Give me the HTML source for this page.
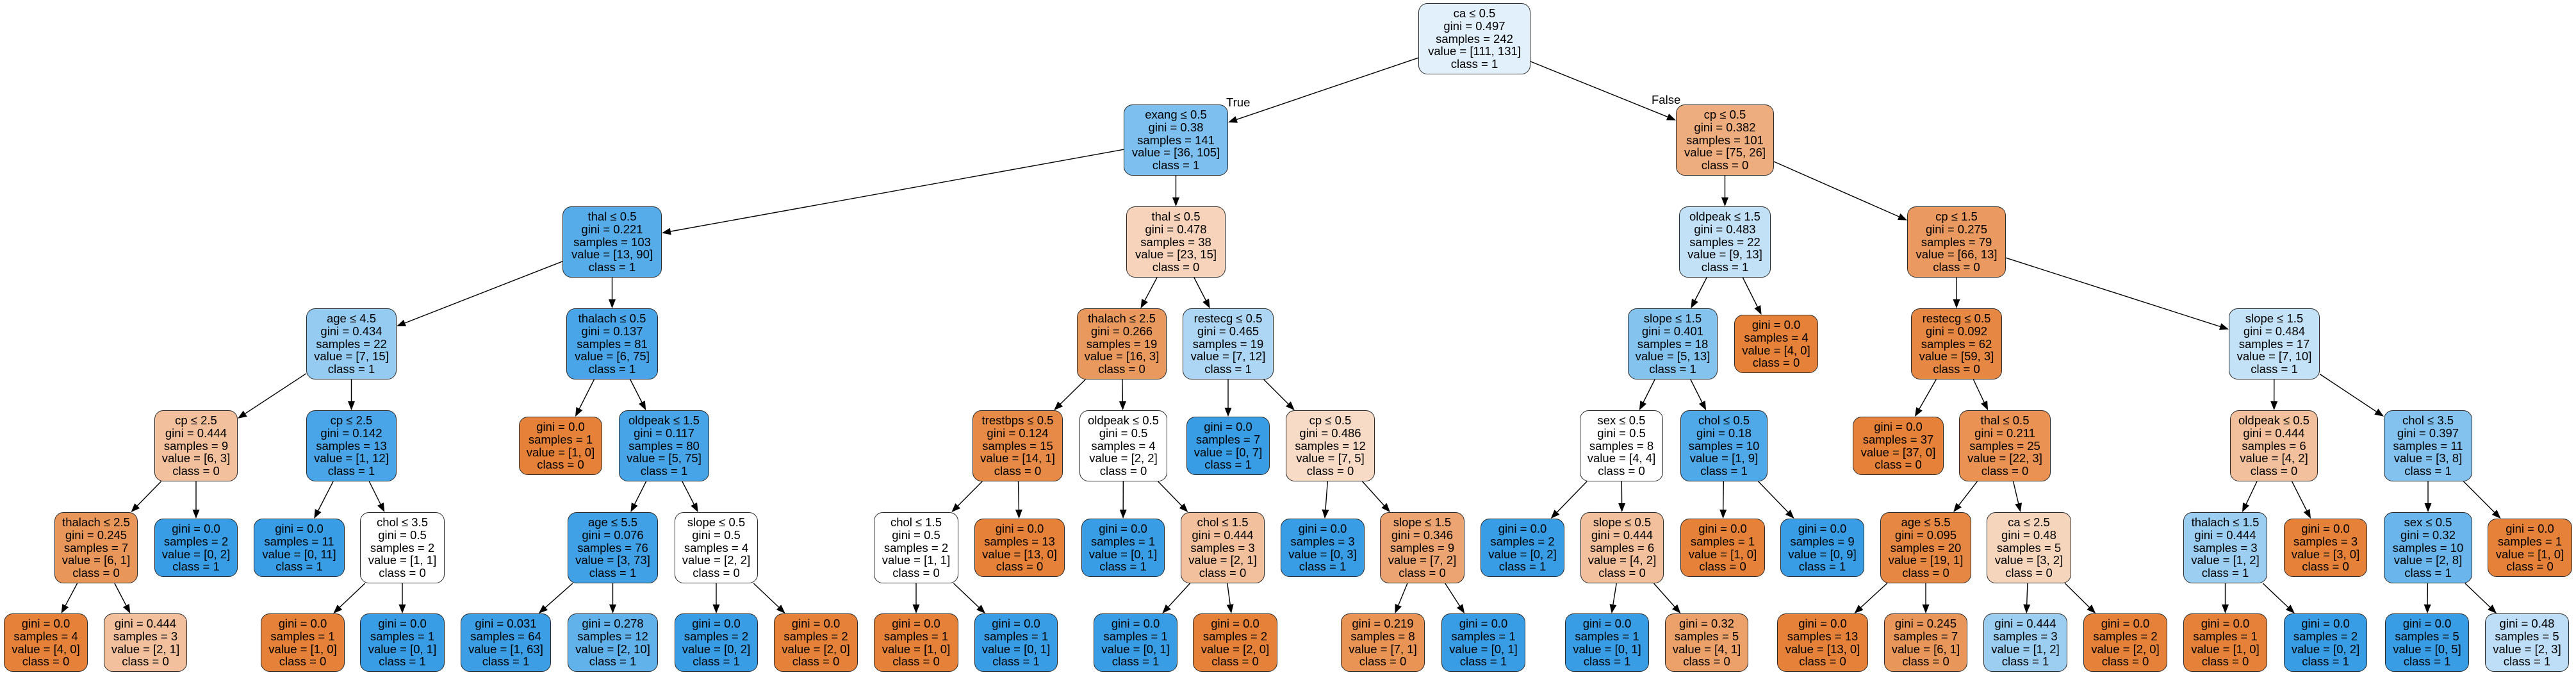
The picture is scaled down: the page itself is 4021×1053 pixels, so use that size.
<!DOCTYPE html>
<html><head><meta charset="utf-8">
<style>
html,body{margin:0;padding:0;background:#fff;}
#c{position:relative;width:4021px;height:1053px;overflow:hidden;background:#fff;font-family:"Liberation Sans",Arial,sans-serif;}
svg{position:absolute;left:0;top:0;}
.n{position:absolute;box-sizing:border-box;height:111px;border:1.6px solid #2b2b2b;border-radius:14px;background:#fff;display:flex;align-items:center;justify-content:center;text-align:center;font-size:18.5px;line-height:19.9px;color:#000;white-space:nowrap;}
.l{height:91px;}
.lab{position:absolute;font-size:18.5px;line-height:20px;white-space:nowrap;}
</style></head><body>
<div id="c">
<svg id="s" width="4021" height="1053"></svg>
<div class="lab" style="left:1914px;top:150px">True</div>
<div class="lab" style="left:2578px;top:146px">False</div>

<div class="n" id="A" style="left:2214px;top:5px;width:175px">ca ≤ 0.5<br>gini = 0.497<br>samples = 242<br>value = [111, 131]<br>class = 1</div>

<div class="n" id="B" style="left:1754px;top:163px;width:163px">exang ≤ 0.5<br>gini = 0.38<br>samples = 141<br>value = [36, 105]<br>class = 1</div>
<div class="n" id="C" style="left:2616px;top:163px;width:153px">cp ≤ 0.5<br>gini = 0.382<br>samples = 101<br>value = [75, 26]<br>class = 0</div>

<div class="n" id="D" style="left:878px;top:322px;width:155px">thal ≤ 0.5<br>gini = 0.221<br>samples = 103<br>value = [13, 90]<br>class = 1</div>
<div class="n" id="E" style="left:1758px;top:322px;width:155px">thal ≤ 0.5<br>gini = 0.478<br>samples = 38<br>value = [23, 15]<br>class = 0</div>
<div class="n" id="F" style="left:2621px;top:322px;width:143px">oldpeak ≤ 1.5<br>gini = 0.483<br>samples = 22<br>value = [9, 13]<br>class = 1</div>
<div class="n" id="G" style="left:2977px;top:322px;width:154px">cp ≤ 1.5<br>gini = 0.275<br>samples = 79<br>value = [66, 13]<br>class = 0</div>

<div class="n" id="H" style="left:478px;top:481px;width:141px">age ≤ 4.5<br>gini = 0.434<br>samples = 22<br>value = [7, 15]<br>class = 1</div>
<div class="n" id="I" style="left:884px;top:481px;width:143px">thalach ≤ 0.5<br>gini = 0.137<br>samples = 81<br>value = [6, 75]<br>class = 1</div>
<div class="n" id="J" style="left:1681px;top:481px;width:140px">thalach ≤ 2.5<br>gini = 0.266<br>samples = 19<br>value = [16, 3]<br>class = 0</div>
<div class="n" id="K" style="left:1846px;top:481px;width:142px">restecg ≤ 0.5<br>gini = 0.465<br>samples = 19<br>value = [7, 12]<br>class = 1</div>
<div class="n" id="L" style="left:2541px;top:481px;width:140px">slope ≤ 1.5<br>gini = 0.401<br>samples = 18<br>value = [5, 13]<br>class = 1</div>
<div class="n l" id="M" style="left:2707px;top:491px;width:131px">gini = 0.0<br>samples = 4<br>value = [4, 0]<br>class = 0</div>
<div class="n" id="N" style="left:2983px;top:481px;width:142px">restecg ≤ 0.5<br>gini = 0.092<br>samples = 62<br>value = [59, 3]<br>class = 0</div>
<div class="n" id="O" style="left:3479px;top:481px;width:142px">slope ≤ 1.5<br>gini = 0.484<br>samples = 17<br>value = [7, 10]<br>class = 1</div>

<div class="n" id="P" style="left:241px;top:640px;width:130px">cp ≤ 2.5<br>gini = 0.444<br>samples = 9<br>value = [6, 3]<br>class = 0</div>
<div class="n" id="Q" style="left:478px;top:640px;width:141px">cp ≤ 2.5<br>gini = 0.142<br>samples = 13<br>value = [1, 12]<br>class = 1</div>
<div class="n l" id="R" style="left:810px;top:650px;width:130px">gini = 0.0<br>samples = 1<br>value = [1, 0]<br>class = 0</div>
<div class="n" id="S" style="left:966px;top:640px;width:141px">oldpeak ≤ 1.5<br>gini = 0.117<br>samples = 80<br>value = [5, 75]<br>class = 1</div>
<div class="n" id="T" style="left:1518px;top:640px;width:141px">trestbps ≤ 0.5<br>gini = 0.124<br>samples = 15<br>value = [14, 1]<br>class = 0</div>
<div class="n" id="U" style="left:1685px;top:640px;width:137px">oldpeak ≤ 0.5<br>gini = 0.5<br>samples = 4<br>value = [2, 2]<br>class = 0</div>
<div class="n l" id="V" style="left:1852px;top:650px;width:130px">gini = 0.0<br>samples = 7<br>value = [0, 7]<br>class = 1</div>
<div class="n" id="W" style="left:2007px;top:640px;width:139px">cp ≤ 0.5<br>gini = 0.486<br>samples = 12<br>value = [7, 5]<br>class = 0</div>
<div class="n" id="X" style="left:2466px;top:640px;width:130px">sex ≤ 0.5<br>gini = 0.5<br>samples = 8<br>value = [4, 4]<br>class = 0</div>
<div class="n" id="Y" style="left:2623px;top:640px;width:136px">chol ≤ 0.5<br>gini = 0.18<br>samples = 10<br>value = [1, 9]<br>class = 1</div>
<div class="n l" id="Z" style="left:2892px;top:650px;width:142px">gini = 0.0<br>samples = 37<br>value = [37, 0]<br>class = 0</div>
<div class="n" id="AA" style="left:3058px;top:640px;width:143px">thal ≤ 0.5<br>gini = 0.211<br>samples = 25<br>value = [22, 3]<br>class = 0</div>
<div class="n" id="AB" style="left:3481px;top:640px;width:137px">oldpeak ≤ 0.5<br>gini = 0.444<br>samples = 6<br>value = [4, 2]<br>class = 0</div>
<div class="n" id="AC" style="left:3721px;top:640px;width:138px">chol ≤ 3.5<br>gini = 0.397<br>samples = 11<br>value = [3, 8]<br>class = 1</div>

<div class="n" id="P1" style="left:85px;top:799px;width:130px">thalach ≤ 2.5<br>gini = 0.245<br>samples = 7<br>value = [6, 1]<br>class = 0</div>
<div class="n l" id="P2" style="left:241px;top:809px;width:130px">gini = 0.0<br>samples = 2<br>value = [0, 2]<br>class = 1</div>
<div class="n l" id="Q1" style="left:396px;top:809px;width:142px">gini = 0.0<br>samples = 11<br>value = [0, 11]<br>class = 1</div>
<div class="n" id="Q2" style="left:562px;top:799px;width:132px">chol ≤ 3.5<br>gini = 0.5<br>samples = 2<br>value = [1, 1]<br>class = 0</div>
<div class="n" id="S1" style="left:886px;top:799px;width:141px">age ≤ 5.5<br>gini = 0.076<br>samples = 76<br>value = [3, 73]<br>class = 1</div>
<div class="n" id="S2" style="left:1053px;top:799px;width:130px">slope ≤ 0.5<br>gini = 0.5<br>samples = 4<br>value = [2, 2]<br>class = 0</div>
<div class="n" id="T1" style="left:1364px;top:799px;width:132px">chol ≤ 1.5<br>gini = 0.5<br>samples = 2<br>value = [1, 1]<br>class = 0</div>
<div class="n l" id="T2" style="left:1521px;top:809px;width:141px">gini = 0.0<br>samples = 13<br>value = [13, 0]<br>class = 0</div>
<div class="n l" id="U1" style="left:1688px;top:809px;width:130px">gini = 0.0<br>samples = 1<br>value = [0, 1]<br>class = 1</div>
<div class="n" id="U2" style="left:1843px;top:799px;width:131px">chol ≤ 1.5<br>gini = 0.444<br>samples = 3<br>value = [2, 1]<br>class = 0</div>
<div class="n l" id="W1" style="left:1999px;top:809px;width:131px">gini = 0.0<br>samples = 3<br>value = [0, 3]<br>class = 1</div>
<div class="n" id="W2" style="left:2154px;top:799px;width:132px">slope ≤ 1.5<br>gini = 0.346<br>samples = 9<br>value = [7, 2]<br>class = 0</div>
<div class="n l" id="X1" style="left:2311px;top:809px;width:131px">gini = 0.0<br>samples = 2<br>value = [0, 2]<br>class = 1</div>
<div class="n" id="X2" style="left:2467px;top:799px;width:130px">slope ≤ 0.5<br>gini = 0.444<br>samples = 6<br>value = [4, 2]<br>class = 0</div>
<div class="n l" id="Y1" style="left:2623px;top:809px;width:132px">gini = 0.0<br>samples = 1<br>value = [1, 0]<br>class = 0</div>
<div class="n l" id="Y2" style="left:2779px;top:809px;width:131px">gini = 0.0<br>samples = 9<br>value = [0, 9]<br>class = 1</div>
<div class="n" id="AA1" style="left:2935px;top:799px;width:142px">age ≤ 5.5<br>gini = 0.095<br>samples = 20<br>value = [19, 1]<br>class = 0</div>
<div class="n" id="AA2" style="left:3101px;top:799px;width:132px">ca ≤ 2.5<br>gini = 0.48<br>samples = 5<br>value = [3, 2]<br>class = 0</div>
<div class="n" id="AB1" style="left:3408px;top:799px;width:131px">thalach ≤ 1.5<br>gini = 0.444<br>samples = 3<br>value = [1, 2]<br>class = 1</div>
<div class="n l" id="AB2" style="left:3565px;top:809px;width:130px">gini = 0.0<br>samples = 3<br>value = [3, 0]<br>class = 0</div>
<div class="n" id="AC1" style="left:3721px;top:799px;width:138px">sex ≤ 0.5<br>gini = 0.32<br>samples = 10<br>value = [2, 8]<br>class = 1</div>
<div class="n l" id="AC2" style="left:3883px;top:809px;width:132px">gini = 0.0<br>samples = 1<br>value = [1, 0]<br>class = 0</div>

<div class="n l" id="g1" style="left:6px;top:957px;width:131px">gini = 0.0<br>samples = 4<br>value = [4, 0]<br>class = 0</div>
<div class="n l" id="g2" style="left:162px;top:957px;width:130px">gini = 0.444<br>samples = 3<br>value = [2, 1]<br>class = 0</div>
<div class="n l" id="g3" style="left:407px;top:957px;width:131px">gini = 0.0<br>samples = 1<br>value = [1, 0]<br>class = 0</div>
<div class="n l" id="g4" style="left:562px;top:957px;width:132px">gini = 0.0<br>samples = 1<br>value = [0, 1]<br>class = 1</div>
<div class="n l" id="g5" style="left:719px;top:957px;width:141px">gini = 0.031<br>samples = 64<br>value = [1, 63]<br>class = 1</div>
<div class="n l" id="g6" style="left:886px;top:957px;width:141px">gini = 0.278<br>samples = 12<br>value = [2, 10]<br>class = 1</div>
<div class="n l" id="g7" style="left:1053px;top:957px;width:130px">gini = 0.0<br>samples = 2<br>value = [0, 2]<br>class = 1</div>
<div class="n l" id="g8" style="left:1208px;top:957px;width:131px">gini = 0.0<br>samples = 2<br>value = [2, 0]<br>class = 0</div>
<div class="n l" id="g9" style="left:1364px;top:957px;width:132px">gini = 0.0<br>samples = 1<br>value = [1, 0]<br>class = 0</div>
<div class="n l" id="g10" style="left:1521px;top:957px;width:130px">gini = 0.0<br>samples = 1<br>value = [0, 1]<br>class = 1</div>
<div class="n l" id="g11" style="left:1707px;top:957px;width:131px">gini = 0.0<br>samples = 1<br>value = [0, 1]<br>class = 1</div>
<div class="n l" id="g12" style="left:1862px;top:957px;width:132px">gini = 0.0<br>samples = 2<br>value = [2, 0]<br>class = 0</div>
<div class="n l" id="g13" style="left:2093px;top:957px;width:131px">gini = 0.219<br>samples = 8<br>value = [7, 1]<br>class = 0</div>
<div class="n l" id="g14" style="left:2250px;top:957px;width:131px">gini = 0.0<br>samples = 1<br>value = [0, 1]<br>class = 1</div>
<div class="n l" id="g15" style="left:2443px;top:957px;width:131px">gini = 0.0<br>samples = 1<br>value = [0, 1]<br>class = 1</div>
<div class="n l" id="g16" style="left:2599px;top:957px;width:130px">gini = 0.32<br>samples = 5<br>value = [4, 1]<br>class = 0</div>
<div class="n l" id="g17" style="left:2774px;top:957px;width:142px">gini = 0.0<br>samples = 13<br>value = [13, 0]<br>class = 0</div>
<div class="n l" id="g18" style="left:2941px;top:957px;width:130px">gini = 0.245<br>samples = 7<br>value = [6, 1]<br>class = 0</div>
<div class="n l" id="g19" style="left:3096px;top:957px;width:131px">gini = 0.444<br>samples = 3<br>value = [1, 2]<br>class = 1</div>
<div class="n l" id="g20" style="left:3252px;top:957px;width:131px">gini = 0.0<br>samples = 2<br>value = [2, 0]<br>class = 0</div>
<div class="n l" id="g21" style="left:3408px;top:957px;width:131px">gini = 0.0<br>samples = 1<br>value = [1, 0]<br>class = 0</div>
<div class="n l" id="g22" style="left:3565px;top:957px;width:130px">gini = 0.0<br>samples = 2<br>value = [0, 2]<br>class = 1</div>
<div class="n l" id="g23" style="left:3723px;top:957px;width:131px">gini = 0.0<br>samples = 5<br>value = [0, 5]<br>class = 1</div>
<div class="n l" id="g24" style="left:3879px;top:957px;width:131px">gini = 0.48<br>samples = 5<br>value = [2, 3]<br>class = 1</div>
</div>
<script>
(function(){
var nodes=document.querySelectorAll('.n');
var c0=[229,129,57],c1=[57,157,229];
for(var i=0;i<nodes.length;i++){
  var t=nodes[i].textContent;var m=t.match(/value = \[(\d+), (\d+)\]/);
  if(!m)continue;var a=+m[1],b=+m[2],s=a+b;var p=a/s,q=b/s;
  var mx=Math.max(p,q),mn=Math.min(p,q);var al=(mn>=1)?0:(mx-mn)/(1-mn);
  var col=(a>=b)?c0:c1;
  var r=col.map(function(v){return Math.round(al*v+(1-al)*255);});
  nodes[i].style.background='rgb('+r.join(',')+')';
}
var E=[['A','B'],['A','C'],['B','D'],['B','E'],['C','F'],['C','G'],
['D','H'],['D','I'],['E','J'],['E','K'],['F','L'],['F','M'],['G','N'],['G','O'],
['H','P'],['H','Q'],['I','R'],['I','S'],['J','T'],['J','U'],['K','V'],['K','W'],['L','X'],['L','Y'],['N','Z'],['N','AA'],['O','AB'],['O','AC'],
['P','P1'],['P','P2'],['Q','Q1'],['Q','Q2'],['S','S1'],['S','S2'],['T','T1'],['T','T2'],['U','U1'],['U','U2'],['W','W1'],['W','W2'],['X','X1'],['X','X2'],['Y','Y1'],['Y','Y2'],['AA','AA1'],['AA','AA2'],['AB','AB1'],['AB','AB2'],['AC','AC1'],['AC','AC2'],
['P1','g1'],['P1','g2'],['Q2','g3'],['Q2','g4'],['S1','g5'],['S1','g6'],['S2','g7'],['S2','g8'],['T1','g9'],['T1','g10'],['U2','g11'],['U2','g12'],['W2','g13'],['W2','g14'],['X2','g15'],['X2','g16'],['AA1','g17'],['AA1','g18'],['AA2','g19'],['AA2','g20'],['AB1','g21'],['AB1','g22'],['AC1','g23'],['AC1','g24']];
function box(id){var e=document.getElementById(id);var x=parseFloat(e.style.left),y=parseFloat(e.style.top),w=parseFloat(e.style.width),h=e.classList.contains('l')?91:111;return {cx:x+w/2,cy:y+h/2,hw:w/2,hh:h/2};}
function clip(b,dx,dy){var tx=Math.abs(dx)>1e-6?b.hw/Math.abs(dx):1e9,ty=Math.abs(dy)>1e-6?b.hh/Math.abs(dy):1e9;var t=Math.min(tx,ty);return [b.cx+dx*t,b.cy+dy*t];}
var svg='';
E.forEach(function(e){
  var p=box(e[0]),c=box(e[1]);var dx=c.cx-p.cx,dy=c.cy-p.cy;
  var s=clip(p,dx,dy),en=clip(c,-dx,-dy);
  var L=Math.hypot(en[0]-s[0],en[1]-s[1]);var ux=(en[0]-s[0])/L,uy=(en[1]-s[1])/L;
  var al=14,aw=5.5;var bx=en[0]-ux*al,by=en[1]-uy*al;
  svg+='<line x1="'+s[0].toFixed(1)+'" y1="'+s[1].toFixed(1)+'" x2="'+bx.toFixed(1)+'" y2="'+by.toFixed(1)+'" stroke="#000" stroke-width="1.4"/>';
  svg+='<polygon points="'+en[0].toFixed(1)+','+en[1].toFixed(1)+' '+(bx-uy*aw).toFixed(1)+','+(by+ux*aw).toFixed(1)+' '+(bx+uy*aw).toFixed(1)+','+(by-ux*aw).toFixed(1)+'" fill="#000"/>';
});
document.getElementById('s').innerHTML=svg;
})();
</script>
</body></html>
